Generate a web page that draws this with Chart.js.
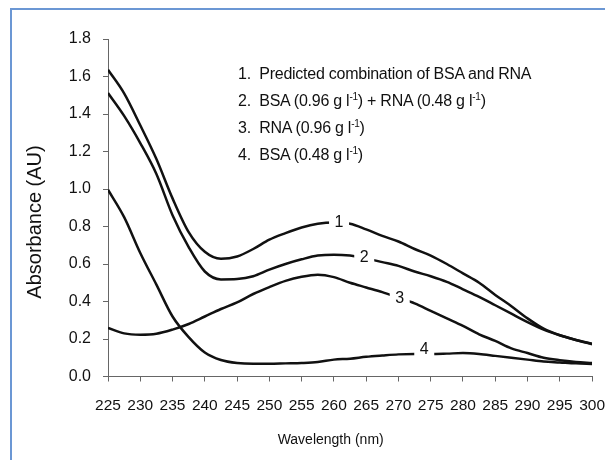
<!DOCTYPE html>
<html>
<head>
<meta charset="utf-8">
<script src="https://cdn.jsdelivr.net/npm/chart.js@4/dist/chart.umd.min.js"></script>
<style>
    body { margin: 0; background: #fff; overflow: hidden; width: 605px; height: 460px; position: relative; }
    #frame { position: absolute; left: 10px; top: 8px; width: 700px; height: 600px;
             border-left: 2px solid #6b97d4; border-top: 2px solid #6b97d4; }
    #wrap { position: absolute; left: 0; top: 0; width: 620px; height: 460px; }
    #key { position: absolute; left: 238px; top: 60px; font: 16px "Liberation Sans", Arial, sans-serif;
           line-height: 27px; color: #111; white-space: nowrap; letter-spacing: -0.25px; }
    #key sup { font-size: 10px; vertical-align: 6px; line-height: 0; }
</style>
</head>
<body>
<div id="frame"></div>
<div id="wrap"><canvas id="uv-chart" width="620" height="460"></canvas></div>
<div id="key">
    <div>1.&nbsp; Predicted combination of BSA and RNA</div>
    <div>2.&nbsp; BSA (0.96 g l<sup>-1</sup>) + RNA (0.48 g l<sup>-1</sup>)</div>
    <div>3.&nbsp; RNA (0.96 g l<sup>-1</sup>)</div>
    <div>4.&nbsp; BSA (0.48 g l<sup>-1</sup>)</div>
</div>
<script>
const wavelengths = [225, 227.5, 230, 232.5, 235, 237.5, 240, 242.5, 245, 247.5, 250, 252.5, 255, 257.5, 260,
    262.5, 265, 267.5, 270, 272.5, 275, 277.5, 280, 282.5, 285, 287.5, 290, 292.5, 295, 297.5, 300];

const predicted = [1.636, 1.51, 1.34, 1.16, 0.95, 0.77, 0.665, 0.628, 0.64, 0.68, 0.73, 0.765, 0.795, 0.815, 0.822,
    0.815, 0.785, 0.75, 0.72, 0.68, 0.645, 0.60, 0.55, 0.50, 0.435, 0.375, 0.31, 0.255, 0.22, 0.195, 0.175];
const bsaRna = [1.512, 1.39, 1.245, 1.08, 0.86, 0.69, 0.56, 0.518, 0.52, 0.535, 0.57, 0.60, 0.625, 0.645, 0.65,
    0.645, 0.63, 0.61, 0.59, 0.56, 0.535, 0.505, 0.465, 0.425, 0.38, 0.335, 0.29, 0.25, 0.22, 0.195, 0.172];
const rna = [0.259, 0.23, 0.223, 0.228, 0.25, 0.28, 0.32, 0.36, 0.395, 0.44, 0.477, 0.51, 0.532, 0.543, 0.53,
    0.50, 0.475, 0.45, 0.42, 0.39, 0.35, 0.31, 0.27, 0.225, 0.19, 0.15, 0.125, 0.10, 0.087, 0.078, 0.072];
const bsa = [0.996, 0.85, 0.659, 0.49, 0.32, 0.21, 0.128, 0.088, 0.072, 0.068, 0.068, 0.07, 0.072, 0.077, 0.09,
    0.095, 0.105, 0.112, 0.118, 0.12, 0.12, 0.122, 0.125, 0.12, 0.11, 0.10, 0.09, 0.08, 0.075, 0.07, 0.067];

const curveTags = ['1', '2', '3', '4'];
const tagAt = [260.8, 264.7, 270.2, 274];

const series = [predicted, bsaRna, rna, bsa];
const sans = '"Liberation Sans", Arial, sans-serif';

function valueAt(values, nm) {
    for (let i = 0; i < wavelengths.length - 1; i++) {
        if (nm >= wavelengths[i] && nm <= wavelengths[i + 1]) {
            const t = (nm - wavelengths[i]) / (wavelengths[i + 1] - wavelengths[i]);
            return values[i] + t * (values[i + 1] - values[i]);
        }
    }
    return values[values.length - 1];
}

// numbers sitting in gaps of the curves, plus the axis titles
const curveMarks = {
    id: 'curveMarks',
    afterDraw(chart) {
        const {ctx, scales: {x, y}} = chart;
        ctx.save();
        ctx.font = '16px ' + sans;
        ctx.textAlign = 'center';
        ctx.textBaseline = 'middle';
        curveTags.forEach((tag, i) => {
            const px = x.getPixelForValue(tagAt[i]);
            const py = y.getPixelForValue(valueAt(series[i], tagAt[i])) + (i === 3 ? -4 : 0);
            ctx.fillStyle = '#fff';
            ctx.fillRect(px - 10, py - 9, 20, 18);
            ctx.fillStyle = '#111';
            ctx.fillText(tag, px, py);
        });

        ctx.font = '14px ' + sans;
        ctx.fillText('Wavelength (nm)', x.left + (x.right - x.left) * 0.46, 440);

        ctx.translate(35, 222);
        ctx.rotate(-Math.PI / 2);
        ctx.font = '20px ' + sans;
        ctx.fillText('Absorbance (AU)', 0, 0);
        ctx.restore();
    }
};

const uvChart = document.getElementById('uv-chart');

new Chart(uvChart, {
    type: 'line',
    data: {
        datasets: series.map(values => ({
            data: wavelengths.map((nm, i) => ({x: nm, y: values[i]})),
            borderColor: '#111',
            borderWidth: 2.5,
            pointRadius: 0,
            cubicInterpolationMode: 'monotone',
            fill: false
        }))
    },
    options: {
        responsive: false,
        animation: false,
        layout: {
            padding: {top: 39, right: 23, left: 0, bottom: 0}
        },
        plugins: {
            legend: {display: false},
            tooltip: {enabled: false}
        },
        scales: {
            x: {
                type: 'linear',
                min: 225,
                max: 300,
                afterFit: scale => { scale.height = 83.5; },
                ticks: {
                    stepSize: 5,
                    padding: 15,
                    color: '#111',
                    maxRotation: 0,
                    autoSkip: false,
                    font: {family: sans, size: 15.5}
                },
                grid: {drawOnChartArea: false, tickLength: 5, color: '#666'},
                border: {color: '#666', width: 1}
            },
            y: {
                min: 0,
                max: 1.8,
                afterFit: scale => { scale.width = 108; },
                ticks: {
                    stepSize: 0.2,
                    padding: 12,
                    color: '#111',
                    callback: v => v.toFixed(1),
                    font: {family: sans, size: 16}
                },
                grid: {drawOnChartArea: false, tickLength: 5, color: '#666'},
                border: {color: '#666', width: 1}
            }
        }
    },
    plugins: [curveMarks]
});
</script>
</body>
</html>
